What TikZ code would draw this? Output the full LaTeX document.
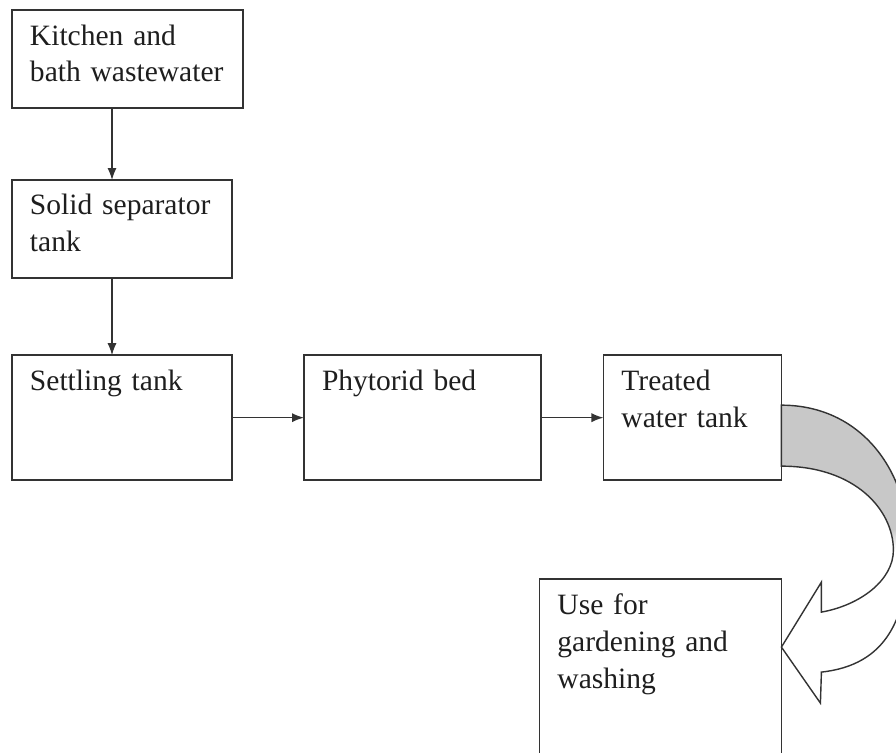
\documentclass[tikz,border=0pt]{standalone}
\usepackage{fontspec}
\setmainfont{Liberation Serif}
\usetikzlibrary{positioning, arrows.meta}
\definecolor{linegray}{HTML}{333333}
\definecolor{textgray}{HTML}{1E1E1E}
\definecolor{bandgray}{HTML}{C8C8C8}
\tikzstyle{arrow} = [line width=1pt, draw=linegray, ->]
\tikzstyle{block} = [draw=linegray, line width=1.3pt, rectangle, anchor=north west,
    inner xsep=12.8pt, inner ysep=0pt, outer sep=0pt, align=left, text=textgray,
    font=\fontsize{21}{26.3}\selectfont, text height=24.9pt]
\tikzstyle{shortblock} = [block, text depth=44.8pt]
\tikzstyle{tallblock} = [block, text depth=64pt]
\tikzstyle{bigblock} = [block, text depth=103.8pt]

\begin{document}
\begin{tikzpicture}[auto, >={Latex[length=8.5pt,width=6.5pt]}]
     \useasboundingbox (0,0) rectangle (22.4,-18.825);
     \clip (0,0) rectangle (22.4,-18.825);

     \node [shortblock, text width=138.7pt] at (0.3,-0.25) (kitchen) {Kitchen and\\bath wastewater};
     \node [shortblock, text width=130.9pt, below=1.8cm of kitchen.south west, anchor=north west] (separator) {Solid separator\\tank};
     \draw [arrow] ([xshift=2.5cm]kitchen.south west) -- ([xshift=2.5cm]separator.north west);

     \node [tallblock, text width=130.9pt, below=1.93cm of separator.south west, anchor=north west] (settling) {Settling tank};
     \draw [arrow] ([xshift=2.5cm]separator.south west) -- ([xshift=2.5cm]settling.north west);

     \node [tallblock, text width=143pt, right=1.8cm of settling] (phytorid) {Phytorid bed};
     \draw [arrow] (settling) -- (phytorid);
     \node [tallblock, text width=101pt, right=1.56cm of phytorid] (treated) {Treated\\water tank};
     \draw [arrow] (phytorid) -- (treated);

     \node [bigblock, text width=146.5pt, below=2.475cm of treated.south east, anchor=north east] (reuse) {Use for\\gardening and\\washing};

     % curved block arrow from the treated water tank down to its use
     \begin{scope}[shift={(treated.north east)}, x=0.025cm, y=-0.025cm]
     \draw [draw=linegray, line width=1pt,
       path picture={
         \fill [bandgray] (path picture bounding box.north west) rectangle ([yshift=-3.1cm]path picture bounding box.north east);
         \shade [top color=bandgray, bottom color=white] ([yshift=-3.1cm]path picture bounding box.north west) rectangle ([yshift=-3.6cm]path picture bounding box.north east);
       }]
       (0,50) .. controls (79,50) and (127,115) .. (127,190)
       .. controls (127,265) and (104,310) .. (40,317)
       -- (39,348) -- (0,292) -- (40,227) -- (40,257)
       .. controls (79,250) and (112,225) .. (112,195)
       .. controls (112,155) and (74,111) .. (0,111) -- cycle;
     \end{scope}
\end{tikzpicture}
\end{document}
